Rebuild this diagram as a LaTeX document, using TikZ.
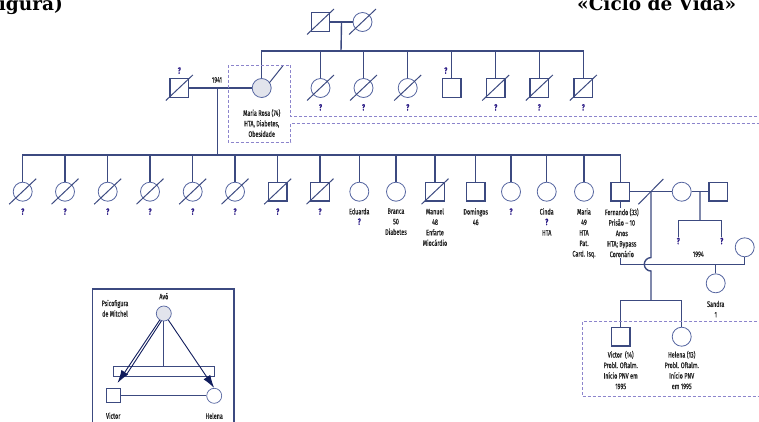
\documentclass[tikz,border=0pt]{standalone}
\usepackage{fontspec}
\newfontfamily\pedfont[FakeStretch=0.68, FakeBold=0.7]{Fira Sans}
\newfontfamily\titlefont{DejaVu Serif}
\newcommand\infofont{\pedfont\fontsize{8}{10.5}\selectfont}
\newcommand\qfont{\pedfont\bfseries\fontsize{9}{10.5}\selectfont}
\usetikzlibrary{arrows.meta,positioning,calc}
\definecolor{linecol}{HTML}{3C4A80}
\definecolor{circcol}{HTML}{5565A0}
\definecolor{qcol}{HTML}{2C1C86}
\definecolor{dashcol}{HTML}{8C84CC}
\definecolor{idxgray}{HTML}{E2E4EC}
\definecolor{txtcol}{HTML}{222222}
\definecolor{arrowcol}{HTML}{101C5C}
\tikzset{
  male/.style={
    draw=linecol,
    rectangle,
    line width=1.4pt,
    minimum size=18.5pt,
    inner sep=0pt
  },
  female/.style={
    draw=circcol,
    circle,
    line width=0.8pt,
    minimum size=19pt,
    inner sep=0pt
  },
  index/.style={
    fill=idxgray
  },
  rel/.style={
    draw=linecol,
    line width=1.4pt
  },
  dead/.style={
    draw=linecol,
    line width=1pt
  },
  unk/.style={
    text=qcol,
    font=\qfont,
    inner sep=1pt
  },
  info/.style={
    text=txtcol,
    font=\infofont,
    align=center,
    inner sep=0.5pt
  },
  ttl/.style={
    font=\titlefont\bfseries\fontsize{18.5}{20}\selectfont,
    inner sep=0pt
  },
  household/.style={
    draw=dashcol,
    line width=0.8pt,
    dash pattern=on 3pt off 2pt
  },
  psiline/.style={
    draw=arrowcol,
    line width=0.9pt
  },
  psiarrow/.style={
    psiline,
    -{Latex[length=13pt,width=8pt]}
  }
}

\begin{document}
\begin{tikzpicture}[x=1pt, y=-1pt, node distance=6pt]
\clip (0,0) rectangle (759,421);

% titles, cut by the page edge
\node[ttl, anchor=base east] (ttlL) at (63,10) {igura)};
\node[ttl, anchor=base west] (ttlR) at (577,10) {«Ciclo de Vida»};

% first generation
\node[male] (bisavo) at (320.5,22) {};
\node[female] (bisavoa) at (362.5,22) {};
\coordinate (sibA) at (341,51);
\draw[rel] (bisavo) -- (bisavoa);
\draw[rel] ($(bisavo.east)!0.5!(bisavoa.west)$) -- (sibA);

% second generation
\node[female, index] (mrosa) at (261.7,88) {};
\node[male] (marido) at (179.3,88) {};
\node[female] (irm1) at (320.5,88) {};
\node[female] (irm2) at (363.5,88) {};
\node[female] (irm3) at (407.7,88) {};
\node[male] (irm4) at (451.7,88) {};
\node[male] (irm5) at (495.7,88) {};
\node[male] (irm6) at (539.3,88) {};
\node[male] (irm7) at (583.3,88) {};

\draw[rel] (mrosa.north) |- (irm7.north |- sibA) -- (irm7.north);
\foreach \n in {irm1,irm2,irm3,irm4,irm5,irm6}
  \draw[rel] (\n.north) -- (\n.north |- sibA);

\foreach \n in {irm1,irm2,irm3,irm5,irm6,irm7}
  \node[unk, below=5pt of \n] (q\n) {?};
\node[unk, above=3pt of irm4.north west, xshift=4pt] (qirm4) {?};
\node[unk, above=3pt of marido] (qmarido) {?};

\coordinate (m1941) at (217.3,88);
\coordinate (sibB) at (217.3,155);
\draw[rel] (marido) -- (mrosa);
\draw[rel] (m1941) -- (sibB);
\node[info] (ano1941) at (217,80) {1941};
\draw[dead] ($(mrosa.center)+(7.5,-5)$) -- ($(mrosa.center)+(21,-22)$);
\node[info, below=10.5pt of mrosa] (mrosaL) {Maria Rosa (74)\\HTA, Diabetes,\\Obesidade};

% third generation
\node[female] (f1) at (22.7,191.7) {};
\node[female] (f2) at (65,191.7) {};
\node[female] (f3) at (107.7,191.7) {};
\node[female] (f4) at (150,191.7) {};
\node[female] (f5) at (192.7,191.7) {};
\node[female] (f6) at (235,191.7) {};
\node[male] (f7) at (277.7,191.7) {};
\node[male] (f8) at (320,191.7) {};
\node[female] (edu) at (359.3,191.7) {};
\node[female] (bra) at (396,191.7) {};
\node[male] (man) at (435,191.7) {};
\node[male] (dom) at (475.7,191.7) {};
\node[female] (fq) at (511,191.7) {};
\node[female] (cin) at (546.7,191.7) {};
\node[female] (mar) at (584,191.7) {};
\node[male] (fer) at (620.3,191.7) {};

\draw[rel] (f1.north) |- (fer.north |- sibB) -- (fer.north);
\foreach \n in {f2,f3,f4,f5,f6,f7,f8,edu,bra,man,dom,fq,cin,mar}
  \draw[rel] (\n.north) -- (\n.north |- sibB);

\foreach \n in {f1,f2,f3,f4,f5,f6,f7,f8,fq}
  \node[unk, below=5.5pt of \n] (q\n) {?};

% deceased
\foreach \n in {bisavo,bisavoa,marido,irm1,irm2,irm3,irm5,irm6,irm7,f1,f2,f3,f4,f5,f6,f7,f8,man}
  \draw[dead] ($(\n.center)+(-13.5,12.5)$) -- ($(\n.center)+(13.5,-13)$);

\node[info, below=6pt of edu] (eduL) {Eduarda\\{\qfont\color{qcol}?}};
\node[info, below=6pt of bra] (braL) {Branca\\50\\Diabetes};
\node[info, below=6pt of man] (manL) {Manuel\\48\\Enfarte\\Miocárdio};
\node[info, below=6pt of dom] (domL) {Domingos\\46};
\node[info, below=6pt of cin] (cinL) {Cinda\\{\qfont\color{qcol}?}\\HTA};
\node[info, below=6pt of mar] (marL) {Maria\\49\\HTA\\Pat.\\Card. Isq.};

% Fernando, his first and second unions
\node[female] (exmul) at (681.7,191.7) {};
\node[male] (exmar) at (718.3,191.7) {};
\node[female] (comp) at (744.7,247.3) {};
\node[female] (san) at (715.7,283.3) {};
\node[male] (vic) at (620.7,336.7) {};
\node[female] (hel) at (681.7,336.7) {};

\coordinate (fmid) at ($(fer.east)!0.5!(exmul.west)$);
\coordinate (nbar) at (700,264.3);
\coordinate (kbar) at (651,300.7);
\coordinate (ebar) at (700,220.7);

\draw[rel] (fer) -- (exmul);
\draw[dead] ($(fmid)+(-12.7,12.6)$) -- ($(fmid)+(12.3,-12.7)$);
\draw[rel] (fer.south) -- (fer.south |- nbar) -- (comp.south |- nbar) -- (comp.south);
\draw[rel] (fmid) -- ($(fmid |- nbar)+(0,-6.75)$)
  arc[start angle=270, end angle=90, radius=6.75] -- (fmid |- kbar);
\draw[rel] (vic.north) |- (hel.north |- kbar) -- (hel.north);
\draw[rel] (san.north) -- (san.north |- nbar);
\node[info] (ano1994) at (698.3,254.3) {1994};

\draw[rel] (exmul) -- (exmar);
\node[unk] (u1) at (678.3,241) {?};
\node[unk] (u2) at (721.7,241) {?};
\draw[rel] ($(exmul.east)!0.5!(exmar.west)$) -- (ebar);
\draw[rel] (u1.north) -- (u1.north |- ebar) -- (u2.north |- ebar) -- (u2.north);

\node[info, fill=white, below=6pt of fer, xshift=1.5pt] (ferL) {Fernando (33)\\Prisão – 10\\Anos\\HTA; Bypass\\Coronário};
\node[info, below=7pt of san] (sanL) {Sandra\\1};
\node[info, below=3.5pt of vic] (vicL) {Victor\ \ (14)\\Probl. Oftalm.\\Início PNV em\\1995};
\node[info, below=3.5pt of hel] (helL) {Helena (13)\\Probl. Oftalm.\\Início PNV\\em 1995};

% households
\draw[household] (762,116.7) -- (290.7,116.7) -- (290.7,65) -- (228.3,65)
  -- (228.3,142.3) -- (290.7,142.3) -- (290.7,123.3) -- (762,123.3);
\draw[household] (762,321.7) -- (582.3,321.7) -- (582.3,396.7) -- (762,396.7);

% psychofigure inset
\draw[draw=linecol, line width=1.1pt] (92.3,425) -- (92.3,289) -- (234,289) -- (234,425);
\node[info] (psiT) at (115,308.3) {Psicofigura\\de Mitchel};
\node[female, index, minimum size=15pt, line width=0.7pt] (avo) at (163.8,313.5) {};
\node[male, minimum size=14pt, line width=1pt] (pvic) at (113.2,395.8) {};
\node[female, minimum size=15pt, line width=0.7pt] (phel) at (214.2,395.8) {};
\node[info, above=5.5pt of avo] (avoL) {Avó};
\node[info, below=8.5pt of pvic] (pvicL) {Victor};
\node[info, below=8.5pt of phel] (phelL) {Helena};

\coordinate (psibar) at (163.8,366);
\coordinate (psilow) at (163.8,376.7);
\coordinate (vtip) at (117.5,383);
\draw[draw=linecol, line width=0.9pt] (pvic) -- (phel);
\draw[draw=linecol, line width=0.9pt] (pvic |- psibar) rectangle (phel |- psilow);
\draw[draw=linecol, line width=0.9pt] (avo.south) -- (psibar);
\draw[psiarrow] (avo.-122) -- (vtip);
\draw[psiline, shorten >=9pt] (avo.-108) -- ($(vtip)+(3.5,0)$);
\draw[psiarrow] (avo.-55) -- (phel.north);
\end{tikzpicture}
\end{document}
